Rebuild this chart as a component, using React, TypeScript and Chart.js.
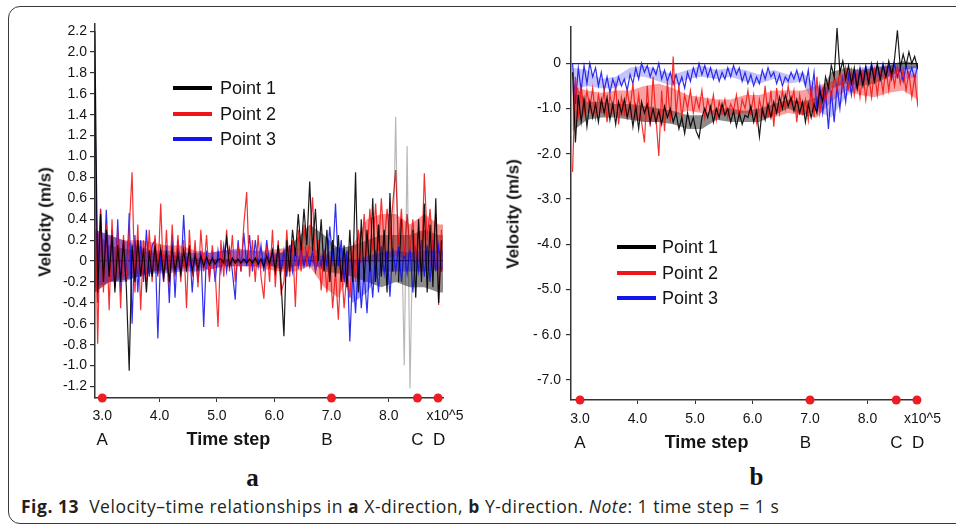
import React, { useEffect, useRef } from "react";
import { Chart, registerables } from "chart.js";

Chart.register(...registerables);

const FONT = '"Liberation Sans", Arial, Helvetica, sans-serif';

// time axis, in units of 10^5 time steps
const TIME_START = 2.87;
const TIME_STEP = 0.05; // spacing of the sampled traces
const BAND_STEP = 0.25; // spacing of the dense-core envelopes

// (a) X-direction velocity (m/s)
const velX_point1 = [
  2.2, -0.3, 0.45, -0.2, 0.3, -0.15, 0.25, -0.3, 0.15, -0.2,
  0.2, -0.25, -1.05, 0.15, -0.2, 0.2, -0.15, 0.12, -0.3, 0.1,
  -0.15, 0.15, -0.1, 0.12, -0.15, 0.1, -0.2, 0.12, -0.1, 0.08,
  -0.12, 0.1, -0.08, 0.12, -0.1, 0.06, -0.08, 0.05, -0.05, 0.04,
  -0.04, 0.03, -0.03, 0.02, 0.02, -0.02, 0.22, -0.05, 0.03, -0.02,
  0.02, -0.02, 0.02, -0.02, 0.02, -0.02, 0.03, -0.03, 0.02, -0.05,
  0.05, -0.03, 0.1, -0.1, 0.15, -0.2, -0.72, 0.2, -0.1, 0.3,
  0.05, 0.45, 0.1, 0.5, 0.15, 0.76, 0.1, 0.5, 0.0, 0.4,
  -0.1, 0.3, -0.2, 0.2, -0.15, 0.25, -0.2, 0.15, -0.25, 0.3,
  -0.2, 0.85, -0.3, 0.4, -0.2, 0.3, -0.1, 0.6, -0.2, 0.35,
  -0.15, 0.3, -0.3, 0.65, -0.1, 1.38, -0.2, 0.4, -1.0, 1.1,
  -1.22, 0.3, -0.35, 0.4, -0.2, 0.55, -0.3, 0.35, -0.25, 0.6,
  -0.4, 0.2,
];
const velX_point2 = [
  0.9, -0.79, 0.5, -0.3, 0.35, -0.47, 0.4, -0.25, 0.3, -0.45,
  0.25, -0.2, 0.3, 0.85, -0.3, 0.35, -0.47, 0.2, -0.2, 0.3,
  -0.2, 0.25, -0.15, 0.55, -0.2, 0.3, -0.25, 0.35, -0.15, 0.25,
  -0.2, 0.2, -0.45, 0.3, -0.15, 0.2, -0.25, 0.3, -0.1, 0.25,
  -0.2, 0.15, -0.1, -0.63, 0.2, -0.15, 0.3, -0.1, 0.25, -0.2,
  0.15, -0.1, 0.35, 0.66, -0.15, 0.2, -0.2, 0.25, -0.15, -0.36,
  0.15, -0.2, 0.3, -0.25, 0.2, -0.3, -0.2, 0.3, -0.15, 0.2,
  -0.44, 0.3, -0.1, 0.35, -0.05, 0.2, 0.61, -0.1, 0.2, -0.28,
  0.1, -0.3, 0.05, -0.45, -0.1, -0.56, 0.0, -0.45, -0.1, -0.35,
  0.1, -0.2, 0.3, 0.0, 0.45, 0.05, 0.5, 0.1, 0.55, 0.1,
  0.6, 0.15, 0.5, 0.2, 0.55, 0.87, 0.15, 0.5, 0.05, 0.45,
  0.1, 0.4, 0.0, 0.3, -0.1, 0.84, 0.2, 0.5, 0.1, 0.45,
  -0.42, 0.3,
];
const velX_point3 = [
  1.6, -0.4, 0.5, -0.2, 0.49, -0.15, 0.3, -0.25, 0.4, -0.3,
  0.2, -0.2, 0.46, -0.6, 0.25, -0.3, 0.2, -0.2, 0.3, -0.15,
  0.15, 0.2, -0.74, 0.1, -0.2, 0.15, -0.4, 0.25, -0.35, 0.2,
  -0.15, 0.44, -0.1, 0.15, -0.3, 0.1, -0.2, 0.1, -0.63, 0.1,
  -0.15, 0.1, -0.2, 0.1, -0.1, 0.15, -0.1, 0.12, -0.1, -0.37,
  0.2, -0.1, 0.27, -0.05, 0.25, -0.1, 0.2, -0.05, 0.15, -0.1,
  0.2, -0.05, 0.1, -0.1, 0.15, -0.1, 0.1, -0.15, 0.15, -0.1,
  0.1, -0.05, 0.1, -0.05, 0.08, -0.05, 0.1, -0.1, 0.05, -0.05,
  0.1, -0.05, 0.33, 0.0, 0.55, -0.05, 0.2, -0.2, 0.1, -0.77,
  -0.1, -0.5, 0.0, -0.45, -0.1, -0.5, 0.0, -0.35, 0.1, -0.3,
  0.14, -0.12, 0.1, -0.34, 0.12, -0.1, 0.14, -0.2, 0.1, -0.12,
  0.14, -0.3, 0.1, -0.1, 0.2, -0.15, 0.15, -0.2, 0.2, -0.1,
  0.15, -0.1,
];
// dense cores (upper / lower envelopes) for (a)
const coreX_point1_hi = [0.3, 0.15, 0.12, 0.1, 0.08, 0.06, 0.05, 0.03, 0.02, 0.02, 0.02, 0.02, 0.03, 0.08, 0.2, 0.35, 0.25, 0.12, 0.15, 0.2, 0.25, 0.25, 0.25, 0.3, 0.25, 0.25];
const coreX_point1_lo = [-0.3, -0.2, -0.18, -0.15, -0.1, -0.08, -0.06, -0.03, -0.02, -0.02, -0.02, -0.02, -0.03, -0.08, -0.05, 0.0, -0.1, -0.12, -0.15, -0.2, -0.25, -0.2, -0.25, -0.25, -0.3, -0.3];
const coreX_point2_hi = [0.3, 0.25, 0.2, 0.2, 0.18, 0.15, 0.15, 0.1, 0.08, 0.1, 0.1, 0.1, 0.1, 0.12, 0.12, 0.15, 0.05, 0.0, 0.15, 0.4, 0.45, 0.45, 0.35, 0.45, 0.35, 0.35];
const coreX_point2_lo = [-0.3, -0.2, -0.15, -0.12, -0.1, -0.1, -0.08, -0.05, -0.08, -0.05, -0.05, -0.05, -0.08, -0.1, -0.1, -0.05, -0.25, -0.35, -0.05, 0.0, 0.0, 0.05, 0.0, 0.0, -0.1, -0.1];
const coreX_point3_hi = [0.3, 0.25, 0.2, 0.15, 0.1, 0.1, 0.08, 0.08, 0.08, 0.1, 0.12, 0.1, 0.08, 0.08, 0.05, 0.05, 0.05, 0.15, 0.0, 0.05, 0.08, 0.1, 0.08, 0.1, 0.1, 0.1];
const coreX_point3_lo = [-0.25, -0.2, -0.2, -0.15, -0.12, -0.12, -0.1, -0.1, -0.08, -0.05, -0.05, -0.05, -0.05, -0.05, -0.05, -0.05, -0.05, -0.05, -0.4, -0.3, -0.1, -0.1, -0.1, -0.1, -0.08, -0.08];

// (b) Y-direction velocity (m/s)
const velY_point1 = [
  -0.2, -1.75, -0.7, -1.3, -0.8, -1.4, -0.85, -1.2, -0.9, -1.3,
  -0.8, -1.1, -0.75, -1.25, -0.9, -1.35, -0.85, -1.1, -0.8, -1.2,
  -0.9, -1.4, -0.95, -1.45, -0.85, -1.1, -0.9, -1.3, -1.0, -1.3,
  -1.05, -1.35, -0.95, -1.2, -1.0, -1.3, -1.1, -1.45, -1.2, -1.55,
  -1.1, -1.4, -1.2, -1.5, -1.65, -1.2, -1.0, -1.2, -0.95, -1.3,
  -1.0, -1.2, -0.9, -1.15, -1.0, -1.3, -1.05, -1.4, -1.1, -1.35,
  -1.15, -1.2, -0.95, -1.3, -1.05, -1.62, -1.0, -1.25, -0.9, -1.2,
  -0.85, -1.1, -0.75, -1.0, -0.7, -0.95, -0.75, -1.05, -0.8, -1.1,
  -0.85, -1.3, -0.9, -1.2, -0.9, -1.1, -0.6, -0.85, -0.3, -0.55,
  -0.05, -0.3, 0.78, -0.2, 0.05, -0.35, -0.05, -0.45, -0.1, -0.56,
  -0.15, -0.5, -0.1, -0.45, -0.05, -0.4, 0.0, -0.35, -0.05, -0.3,
  0.05, -0.25, 0.1, 0.73, -0.1, 0.2, -0.05, 0.25, 0.0, 0.15,
  -0.1, 0.1,
];
const velY_point2 = [
  -2.4, -0.3, -1.2, -0.5, -1.1, -0.6, -1.0, -0.55, -1.2, -0.7,
  -1.05, -0.6, -1.3, -0.7, -1.0, -0.5, -1.35, -0.75, -1.1, -0.6,
  -1.0, -0.45, -1.2, -0.7, -1.3, -1.75, -0.5, -1.4, -0.3, -1.2,
  -2.05, -0.6, -1.5, -0.4, -1.3, 0.15, -1.1, -0.5, -1.2, -0.7,
  -1.0, -0.6, -1.1, -0.75, -1.0, -0.6, -1.2, -0.8, -1.05, -0.7,
  -1.25, -0.85, -1.1, -0.8, -1.2, -0.9, -1.05, -0.7, -1.2, -0.8,
  -1.0, -0.6, -1.1, -0.7, -1.3, -0.8, -1.1, -0.5, -1.2, -0.6,
  -1.4, -0.55, -1.1, -0.6, -1.0, -0.5, -0.9, -0.6, -1.3, -0.7,
  -1.1, -0.8, -1.26, -0.5, -1.2, -0.3, -1.1, -0.6, -0.85, -0.45,
  -0.75, -0.3, -0.6, -0.15, -0.5, -0.1, -0.55, -0.15, -0.7, -0.2,
  -0.75, -0.2, -0.8, -0.25, -0.75, -0.15, -0.7, -0.2, -0.65, -0.1,
  -0.6, -0.1, -0.5, -0.05, -0.45, -0.15, -0.6, -0.2, -0.75, -0.3,
  -0.9, -0.5,
];
const velY_point3 = [
  0.0, -0.9, -0.1, -0.6, -0.05, -0.45, 0.0, -0.3, -0.1, -0.5,
  -0.2, -0.6, -0.3, -0.65, -0.35, -0.55, -0.3, -0.5, -0.35, -0.6,
  -0.25, -0.45, -0.1, -0.35, 0.0, -0.2, -0.05, -0.3, -0.1, -0.25,
  0.0, -0.35, -0.15, -0.4, -0.2, -0.45, -0.25, -0.5, -0.3, -0.55,
  -0.2, -0.4, -0.1, -0.3, 0.0, -0.25, -0.05, -0.3, -0.1, -0.35,
  -0.15, -0.4, -0.2, -0.35, -0.1, -0.3, -0.05, -0.25, -0.1, -0.4,
  -0.2, -0.45, -0.25, -0.5, -0.3, -0.45, -0.15, -0.35, -0.1, -0.3,
  -0.2, -0.45, -0.25, -0.5, -0.3, -0.4, -0.2, -0.35, -0.15, -0.4,
  -0.2, -0.5, -0.15, -0.7, -0.2, -1.0, -0.5, -1.1, -0.6, -1.45,
  -0.6, -1.3, -0.5, -1.0, -0.35, -0.85, -0.25, -0.7, -0.2, -0.55,
  -0.1, -0.4, -0.05, -0.35, 0.0, -0.3, -0.05, -0.35, 0.0, -0.3,
  -0.05, -0.35, 0.0, -0.3, -0.1, -0.4, -0.05, -0.3, -0.1, -0.35,
  -0.05, -0.25,
];
// dense cores (upper / lower envelopes) for (b)
const coreY_point1_hi = [-0.4, -0.85, -0.85, -0.9, -0.9, -0.95, -1.0, -1.05, -1.15, -1.15, -1.0, -1.0, -1.05, -1.0, -0.9, -0.8, -0.85, -0.75, -0.2, -0.1, -0.15, -0.1, -0.05, 0.05, 0.0, 0.0];
const coreY_point1_lo = [-1.5, -1.25, -1.2, -1.2, -1.25, -1.3, -1.3, -1.35, -1.45, -1.45, -1.25, -1.3, -1.3, -1.3, -1.15, -1.0, -1.15, -1.05, -0.55, -0.45, -0.5, -0.45, -0.3, -0.15, -0.1, -0.1];
const coreY_point2_hi = [-0.5, -0.6, -0.65, -0.6, -0.6, -0.5, -0.45, -0.55, -0.7, -0.75, -0.8, -0.8, -0.7, -0.7, -0.6, -0.6, -0.6, -0.5, -0.4, -0.2, -0.25, -0.2, -0.15, -0.15, -0.3, -0.3];
const coreY_point2_lo = [-1.4, -1.1, -1.1, -1.15, -1.2, -1.3, -1.3, -1.15, -1.05, -1.1, -1.15, -1.15, -1.1, -1.2, -1.2, -1.1, -1.15, -1.2, -0.85, -0.6, -0.7, -0.75, -0.65, -0.6, -0.8, -0.8];
const coreY_point3_hi = [-0.1, -0.15, -0.35, -0.3, -0.1, -0.05, -0.15, -0.25, -0.15, -0.05, -0.15, -0.1, -0.15, -0.25, -0.15, -0.25, -0.2, -0.5, -0.55, -0.3, -0.1, -0.05, -0.05, -0.05, -0.05, -0.05];
const coreY_point3_lo = [-0.6, -0.5, -0.55, -0.55, -0.3, -0.3, -0.4, -0.5, -0.35, -0.3, -0.35, -0.3, -0.4, -0.45, -0.35, -0.45, -0.4, -1.05, -1.2, -0.75, -0.45, -0.3, -0.3, -0.35, -0.3, -0.3];

const MARKER_TIMES = [3.0, 7.0, 8.5, 8.86];
const MARKER_LETTERS = ["A", "B", "C", "D"];
const LETTER_TIMES = [3.0, 6.92, 8.5, 8.88];
const X_TICKS = [3, 4, 5, 6, 7, 8];
const X_TICK_LABELS = ["3.0", "4.0", "5.0", "6.0", "7.0", "8.0"];
const Y_TICKS_A = [2.2, 2.0, 1.8, 1.6, 1.4, 1.2, 1.0, 0.8, 0.6, 0.4, 0.2, 0, -0.2, -0.4, -0.6, -0.8, -1.0, -1.2];
const Y_TICK_LABELS_A = ["2.2", "2.0", "1.8", "1.6", "1.4", "1.2", "1.0", "0.8", "0.6", "0.4", "0.2", "0", "-0.2", "-0.4", "-0.6", "-0.8", "-1.0", "-1.2"];
const Y_TICKS_B = [0, -1, -2, -3, -4, -5, -6, -7];
const Y_TICK_LABELS_B = ["0", "-1.0", "-2.0", "-3.0", "-4.0", "-5.0", "- 6.0", "-7.0"];
const SERIES_NAMES = ["Point 1", "Point 2", "Point 3"];
const SERIES_COLORS = ["rgba(0,0,0,0.9)", "rgba(242,20,20,0.88)", "rgba(18,18,238,0.88)"];
const SERIES_FADED = ["rgba(0,0,0,0.28)", "rgba(242,20,20,0.35)", "rgba(18,18,238,0.35)"];
const LEGEND_COLORS = ["#000000", "#f0141b", "#1414ee"];

const annotPlugin = {
  id: "annot",
  afterDraw(chart: any, _args: any, opts: any) {
    const { ctx, chartArea } = chart;
    const x = chart.scales.x;
    ctx.save();
    ctx.fillStyle = "#141414";
    ctx.textAlign = "center";
    ctx.textBaseline = "middle";
    ctx.font = `17px ${FONT}`;
    LETTER_TIMES.forEach((t, i) => {
      ctx.fillText(MARKER_LETTERS[i], x.getPixelForValue(t), chartArea.bottom + opts.letterDy);
    });
    ctx.font = `bold 18px ${FONT}`;
    ctx.fillText("Time step", x.getPixelForValue(opts.titleT), chartArea.bottom + opts.letterDy);
    ctx.font = `14px ${FONT}`;
    ctx.fillText("x10^5", chartArea.right + opts.expDx, chartArea.bottom + opts.expDy);
    ctx.restore();
  },
};

type Panel = {
  series: number[][];
  cores: [number[], number[]][];
  coreFill: string[];
  xMin: number; xMax: number; yMin: number; yMax: number;
  yTicks: number[]; yLabels: string[];
  yAxisWidth: number; xAxisHeight: number; padTop: number; padRight: number;
  yTickPad: number; xTickPad: number;
  letterDy: number; expDx: number; expDy: number; titleT: number;
  zeroOnTop: boolean; fadeAbove: number | null;
};

const PANEL_A: Panel = {
  series: [velX_point1, velX_point2, velX_point3],
  cores: [[coreX_point1_hi, coreX_point1_lo], [coreX_point2_hi, coreX_point2_lo], [coreX_point3_hi, coreX_point3_lo]],
  coreFill: ["rgba(0,0,0,0.45)", "rgba(240,20,20,0.45)", "rgba(18,18,238,0.4)"],
  xMin: 2.873, xMax: 8.946, yMin: -1.31, yMax: 2.268,
  yTicks: Y_TICKS_A, yLabels: Y_TICK_LABELS_A,
  yAxisWidth: 95, xAxisHeight: 62, padTop: 24, padRight: 37,
  yTickPad: 3, xTickPad: 6,
  letterDy: 42.5, expDx: 2, expDy: 18.5, titleT: 5.2,
  zeroOnTop: false, fadeAbove: 0.9,
};

const PANEL_B: Panel = {
  series: [velY_point1, velY_point2, velY_point3],
  cores: [[coreY_point1_hi, coreY_point1_lo], [coreY_point2_hi, coreY_point2_lo], [coreY_point3_hi, coreY_point3_lo]],
  coreFill: ["rgba(0,0,0,0.45)", "rgba(240,20,20,0.4)", "rgba(18,18,238,0.25)"],
  xMin: 2.843, xMax: 8.878, yMin: -7.443, yMax: 0.802,
  yTicks: Y_TICKS_B, yLabels: Y_TICK_LABELS_B,
  yAxisWidth: 91, xAxisHeight: 60, padTop: 27, padRight: 38,
  yTickPad: 5, xTickPad: 7,
  letterDy: 43.5, expDx: 4.5, expDy: 19, titleT: 5.2,
  zeroOnTop: true, fadeAbove: null,
};

function buildChart(canvas: HTMLCanvasElement, p: Panel) {
  const datasets: any[] = [];
  // dense cores: lower envelope, then upper envelope filled down to it
  p.cores.forEach(([hi, lo], k) => {
    datasets.push({
      label: `core-lo-${k}`,
      data: lo.map((v, i) => ({ x: TIME_START + i * BAND_STEP, y: v })),
      borderWidth: 0,
      borderColor: "rgba(0,0,0,0)",
      pointRadius: 0,
      fill: false,
      order: 30 - k * 2,
    });
    datasets.push({
      label: `core-hi-${k}`,
      data: hi.map((v, i) => ({ x: TIME_START + i * BAND_STEP, y: v })),
      borderWidth: 0,
      borderColor: "rgba(0,0,0,0)",
      pointRadius: 0,
      fill: "-1",
      backgroundColor: p.coreFill[k],
      order: 29 - k * 2,
    });
  });
  p.series.forEach((arr, k) => {
    datasets.push({
      label: SERIES_NAMES[k],
      data: arr.map((v, i) => ({ x: TIME_START + i * TIME_STEP, y: v })),
      borderColor: SERIES_COLORS[k],
      borderWidth: 1.2,
      pointRadius: 0,
      tension: 0,
      fill: false,
      order: k + 1,
      segment: {
        borderColor: (c: any) => {
          if (p.fadeAbove === null) return undefined;
          if (c.p0.parsed.x < 3.5) return undefined;
          const m = Math.max(Math.abs(c.p0.parsed.y), Math.abs(c.p1.parsed.y));
          return m > p.fadeAbove ? SERIES_FADED[k] : undefined;
        },
      },
    });
  });
  datasets.push({
    label: "markers",
    data: MARKER_TIMES.map((t) => ({ x: t, y: p.yMin })),
    showLine: false,
    pointRadius: 4.5,
    pointBackgroundColor: "#ee1c24",
    pointBorderWidth: 0,
    clip: false,
    order: 0,
  });

  return new Chart(canvas, {
    type: "line",
    data: { datasets },
    options: {
      responsive: false,
      animation: false,
      events: [],
      layout: { padding: { top: p.padTop, right: p.padRight, left: 0, bottom: 0 } },
      plugins: {
        legend: { display: false },
        tooltip: { enabled: false },
        annot: { letterDy: p.letterDy, expDx: p.expDx, expDy: p.expDy, titleT: p.titleT },
      } as any,
      scales: {
        x: {
          type: "linear",
          min: p.xMin,
          max: p.xMax,
          afterFit: (s: any) => { s.height = p.xAxisHeight; },
          afterBuildTicks: (s: any) => { s.ticks = X_TICKS.map((v) => ({ value: v })); },
          ticks: {
            callback: (v: any) => X_TICK_LABELS[X_TICKS.indexOf(v)],
            font: { family: FONT, size: 14 },
            color: "#141414",
            padding: p.xTickPad,
            maxRotation: 0,
            autoSkip: false,
          },
          grid: { drawOnChartArea: false, tickLength: 4, tickColor: "#333", tickWidth: 1 },
          border: { color: "#333", width: 1.5 },
        },
        y: {
          type: "linear",
          min: p.yMin,
          max: p.yMax,
          z: p.zeroOnTop ? 1 : 0,
          afterFit: (s: any) => { s.width = p.yAxisWidth; },
          afterBuildTicks: (s: any) => { s.ticks = p.yTicks.map((v) => ({ value: v })); },
          ticks: {
            callback: (v: any) => p.yLabels[p.yTicks.indexOf(v)],
            font: { family: FONT, size: 14 },
            color: "#141414",
            padding: p.yTickPad,
            autoSkip: false,
          },
          grid: {
            drawOnChartArea: true,
            color: (c: any) => (c.tick && c.tick.value === 0 ? "#2a2a2a" : "rgba(0,0,0,0)"),
            lineWidth: 1.2,
            tickLength: 5,
            tickColor: "#333",
            tickWidth: 1.2,
          },
          border: { color: "#333", width: 1.5 },
        },
      },
    } as any,
    plugins: [annotPlugin as any],
  });
}

function Legend({ x, textX, ys }: { x: number; textX: number; ys: number[] }) {
  return (
    <>
      {SERIES_NAMES.map((name, k) => (
        <React.Fragment key={name}>
          <div style={{ position: "absolute", left: x, top: ys[k] - 2, width: 39, height: 4, background: LEGEND_COLORS[k] }} />
          <div style={{ position: "absolute", left: textX, top: ys[k], transform: "translateY(-50%)", fontSize: 18, lineHeight: 1, whiteSpace: "nowrap" }}>
            {name}
          </div>
        </React.Fragment>
      ))}
    </>
  );
}

function YTitle({ cx, cy }: { cx: number; cy: number }) {
  return (
    <div
      style={{
        position: "absolute", left: cx, top: cy, transform: "translate(-50%,-50%) rotate(-90deg)",
        fontWeight: "bold", fontSize: 17, lineHeight: 1, whiteSpace: "nowrap",
      }}
    >
      Velocity (m/s)
    </div>
  );
}

export default function App() {
  const refA = useRef<HTMLCanvasElement>(null);
  const refB = useRef<HTMLCanvasElement>(null);

  useEffect(() => {
    const a = buildChart(refA.current as HTMLCanvasElement, PANEL_A);
    const b = buildChart(refB.current as HTMLCanvasElement, PANEL_B);
    return () => { a.destroy(); b.destroy(); };
  }, []);

  return (
    <div style={{ position: "fixed", left: 0, top: 0, width: 956, height: 524, overflow: "hidden", background: "#fff", fontFamily: FONT, color: "#141414" }}>
      <div style={{ position: "absolute", left: 8, top: 6, width: 990, height: 518, border: "1.5px solid #3a3a3a", borderRadius: 12, boxSizing: "border-box" }} />
      <canvas ref={refA} width={480} height={460} style={{ position: "absolute", left: 0, top: 0, width: 480, height: 460 }} />
      <canvas ref={refB} width={476} height={460} style={{ position: "absolute", left: 480, top: 0, width: 476, height: 460 }} />
      <YTitle cx={45} cy={222} />
      <YTitle cx={512.5} cy={213.5} />
      <Legend x={173} textX={220} ys={[88, 114, 138.5]} />
      <Legend x={617} textX={662} ys={[246.5, 273, 297.5]} />
      <div style={{ position: "absolute", left: 252.5, top: 477, transform: "translate(-50%,-50%)", fontFamily: '"Liberation Serif", "DejaVu Serif", serif', fontWeight: "bold", fontSize: 25, lineHeight: 1 }}>a</div>
      <div style={{ position: "absolute", left: 756.5, top: 476, transform: "translate(-50%,-50%)", fontFamily: '"Liberation Serif", "DejaVu Serif", serif', fontWeight: "bold", fontSize: 25, lineHeight: 1 }}>b</div>
      <div style={{ position: "absolute", left: 21, top: 507, transform: "translateY(-50%)", fontFamily: '"Open Sans", "Noto Sans", sans-serif', fontSize: 17.5, letterSpacing: 0.52, lineHeight: 1, whiteSpace: "nowrap", color: "#231f20" }}>
        <b>Fig. 13</b>&nbsp;&nbsp;Velocity–time relationships in <b>a</b> X-direction, <b>b</b> Y-direction. <i>Note</i>: 1 time step = 1 s
      </div>
    </div>
  );
}
